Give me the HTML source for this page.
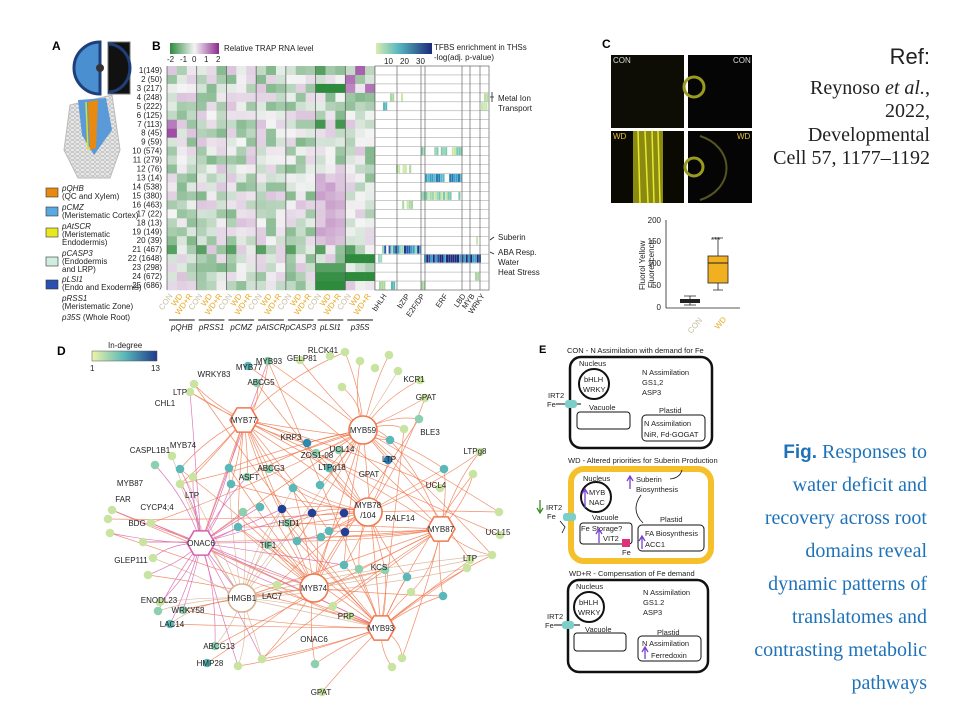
<!DOCTYPE html>
<html><head><meta charset="utf-8">
<style>
html,body{margin:0;padding:0;background:#fff;}
svg{display:block;font-family:"Liberation Sans",Arial,sans-serif;}
.s{font-size:8px;fill:#222;}
.n{font-size:8px;fill:#222;text-anchor:middle;}
.e{font-size:7.5px;fill:#222;}
.r{font-family:"Liberation Serif",serif;font-size:20px;fill:#222;text-anchor:end;}
.f{font-family:"Liberation Serif",serif;font-size:20px;fill:#1f72b8;text-anchor:end;}
</style></head><body>
<svg id="sv" width="960" height="720" viewBox="0 0 960 720" xmlns="http://www.w3.org/2000/svg">
<defs>
<linearGradient id="g1" x1="0" x2="1"><stop offset="0" stop-color="#2e8b3e"/><stop offset="0.5" stop-color="#f4f4f4"/><stop offset="1" stop-color="#8b2a8e"/></linearGradient>
<linearGradient id="g2" x1="0" x2="1"><stop offset="0" stop-color="#d8ecb0"/><stop offset="0.4" stop-color="#57b8c0"/><stop offset="1" stop-color="#1b2a7a"/></linearGradient>
<linearGradient id="g3" x1="0" x2="1"><stop offset="0" stop-color="#eef3a8"/><stop offset="0.5" stop-color="#5ab8b8"/><stop offset="1" stop-color="#1d3a8c"/></linearGradient>
<pattern id="cells" width="5" height="4" patternUnits="userSpaceOnUse"><rect width="5" height="4" fill="#e8e8e8"/><ellipse cx="2.5" cy="2" rx="2.2" ry="1.6" fill="none" stroke="#aaa" stroke-width=".5"/></pattern>
</defs>
<!-- Panel A -->
<text x="52" y="50" font-size="12" font-weight="bold">A</text>
<path d="M100,42 A26,26 0 0 0 100,94 Z" fill="#4a90d0" stroke="#1f3f7a" stroke-width="3"/>
<circle cx="100" cy="68" r="4" fill="#333"/>
<rect x="108" y="42" width="22" height="52" fill="#111" stroke="#777"/>
<path d="M108,44 A22,24 0 0 1 108,92" fill="none" stroke="#1f3f7a" stroke-width="3"/>
<path d="M70,105 L112,95 L120,150 L110,178 L78,178 L64,150 Z" fill="url(#cells)" stroke="#bbb"/>
<path d="M78,100 L106,98 L112,130 L94,155 L82,135 Z" fill="#5a9ad8"/>
<path d="M88,102 L98,100 L96,148 L90,150 Z" fill="#e88a10"/>
<path d="M86,102 L88,150" stroke="#e0e020" stroke-width="1.5"/>
<rect x="46" y="188" width="12" height="9" fill="#e88a10" stroke="#333" stroke-width=".6"/>
<rect x="46" y="207" width="12" height="9" fill="#5aa8e0" stroke="#333" stroke-width=".6"/>
<rect x="46" y="228" width="12" height="9" fill="#e8e820" stroke="#333" stroke-width=".6"/>
<rect x="46" y="257" width="12" height="9" fill="#cfeee0" stroke="#333" stroke-width=".6"/>
<rect x="46" y="280" width="12" height="9" fill="#2a4fb0" stroke="#333" stroke-width=".6"/>
<g class="s" font-size="7.5">
<text x="62" y="191" font-style="italic">pQHB</text><text x="62" y="199">(QC and Xylem)</text>
<text x="62" y="210" font-style="italic">pCMZ</text><text x="62" y="218">(Meristematic Cortex)</text>
<text x="62" y="229" font-style="italic">pAtSCR</text><text x="62" y="237">(Meristematic</text><text x="62" y="245">Endodermis)</text>
<text x="62" y="256" font-style="italic">pCASP3</text><text x="62" y="264">(Endodermis</text><text x="62" y="272">and LRP)</text>
<text x="62" y="282" font-style="italic">pLSI1</text><text x="62" y="290">(Endo and Exodermis)</text>
<text x="62" y="301" font-style="italic">pRSS1</text><text x="62" y="309">(Meristematic Zone)</text>
<text x="62" y="320"><tspan font-style="italic">p35S</tspan> (Whole Root)</text>
</g>
<!-- Panel B -->
<text x="152" y="50" font-size="12" font-weight="bold">B</text>
<rect x="170" y="43" width="49" height="11" fill="url(#g1)"/>
<text class="s" x="224" y="51">Relative TRAP RNA level</text>
<g class="s" font-size="7"><text x="167" y="62">-2</text><text x="180" y="62">-1</text><text x="192" y="62">0</text><text x="204" y="62">1</text><text x="216" y="62">2</text></g>
<rect x="376" y="43" width="56" height="11" fill="url(#g2)"/>
<text class="s" x="434" y="50">TFBS enrichment in THSs</text>
<text class="s" x="434" y="60">-log(adj. p-value)</text>
<g class="s" font-size="7"><text x="384" y="64">10</text><text x="400" y="64">20</text><text x="416" y="64">30</text></g>
<g id="heat"></g>
<g id="rowl" class="s" font-size="8" text-anchor="end"></g>
<g id="coll"></g>
<g class="s" font-size="7.5">
<text x="498" y="101">Metal Ion</text><text x="498" y="111">Transport</text>
<text x="498" y="240">Suberin</text>
<text x="498" y="255">ABA Resp.</text><text x="498" y="265">Water</text><text x="498" y="275">Heat Stress</text>
</g>
<path d="M490,97 L494,97 M492,92 L492,102 M490,240 L494,237 M490,252 L494,254" stroke="#222" stroke-width=".8"/>
<!-- Panel C -->
<text x="602" y="48" font-size="12" font-weight="bold">C</text>
<rect x="611" y="55" width="73" height="73" fill="#0d0d05"/>
<rect x="688" y="55" width="64" height="73" fill="#050505"/>
<rect x="611" y="131" width="73" height="72" fill="#0a0a02"/>
<rect x="688" y="131" width="64" height="72" fill="#050505"/>
<rect x="633" y="131" width="30" height="72" fill="#8a8a10"/>
<path d="M638,131 L640,203 M645,131 L648,203 M652,131 L654,203 M658,131 L660,203" stroke="#e8e830" stroke-width="1.5"/>
<circle cx="694" cy="87" r="10" fill="none" stroke="#9a9a20" stroke-width="3"/>
<circle cx="694" cy="167" r="9" fill="none" stroke="#9a9a20" stroke-width="3"/>
<path d="M700,136 A40,34 0 0 1 700,200" fill="none" stroke="#555520" stroke-width="2"/>
<g font-size="8" fill="#e8c040"><text x="613" y="63" fill="#ddd">CON</text><text x="733" y="63" fill="#ddd">CON</text><text x="613" y="139">WD</text><text x="737" y="139">WD</text></g>
<line x1="666" y1="220" x2="666" y2="308" stroke="#222" stroke-width=".8"/>
<line x1="666" y1="308" x2="740" y2="308" stroke="#222" stroke-width=".8"/>
<g class="s" font-size="7" text-anchor="end"><text x="661" y="223">200</text><text x="661" y="244">150</text><text x="661" y="266">100</text><text x="661" y="288">50</text><text x="661" y="310">0</text></g>
<text class="s" font-size="7" transform="translate(645,290) rotate(-90)">Fluorol Yellow</text>
<text class="s" font-size="7" transform="translate(654,288) rotate(-90)">Fluorescence</text>
<path d="M690,296 L690,305 M684,296 L696,296 M684,305 L696,305 M718,238 L718,290 M713,238 L723,238 M713,290 L723,290" stroke="#222" stroke-width=".8"/>
<rect x="680" y="299" width="20" height="4" fill="#222"/>
<rect x="708" y="256" width="20" height="27" fill="#f0b020" stroke="#222" stroke-width=".8"/>
<line x1="708" y1="263" x2="728" y2="263" stroke="#222"/>
<text class="s" x="711" y="243" font-size="7">***</text>
<text x="680" y="330" font-size="8" fill="#c8bfa0" transform="rotate(-50 690 320)">CON</text>
<text x="708" y="328" font-size="8" fill="#e8a820" transform="rotate(-50 715 318)">WD</text>
<!-- Ref -->
<text x="930" y="64" font-size="22" text-anchor="end" fill="#222">Ref:</text>
<text class="r" x="930" y="94">Reynoso <tspan font-style="italic">et al.</tspan>,</text>
<text class="r" x="930" y="117">2022,</text>
<text class="r" x="930" y="141">Developmental</text>
<text class="r" x="930" y="164">Cell 57, 1177–1192</text>
<!-- Fig caption -->
<text class="f" x="927" y="458"><tspan font-family="Liberation Sans" font-weight="bold" font-size="19">Fig.</tspan> Responses to</text>
<text class="f" x="927" y="491">water deficit and</text>
<text class="f" x="927" y="524">recovery across root</text>
<text class="f" x="927" y="557">domains reveal</text>
<text class="f" x="927" y="590">dynamic patterns of</text>
<text class="f" x="927" y="623">translatomes and</text>
<text class="f" x="927" y="656">contrasting metabolic</text>
<text class="f" x="927" y="689">pathways</text>
<!-- Panel D -->
<text x="57" y="355" font-size="12" font-weight="bold">D</text>
<rect x="92" y="351" width="65" height="10" fill="url(#g3)" stroke="#555" stroke-width=".5"/>
<text class="s" x="108" y="348" font-size="7.5">In-degree</text>
<text class="s" x="90" y="371" font-size="7.5">1</text><text class="s" x="151" y="371" font-size="7.5">13</text>
<g id="edges"></g>
<g id="nodes"></g>
<g id="hubs"></g>
<g class="n" id="lbl">
<text x="323" y="353">RLCK41</text><text x="302" y="361">GELP81</text><text x="269" y="364">MYB93</text><text x="249" y="370">MYB77</text>
<text x="214" y="377">WRKY83</text><text x="261" y="385">ABCG5</text><text x="180" y="395">LTP</text><text x="165" y="406">CHL1</text>
<text x="414" y="382">KCR1</text><text x="426" y="400">GPAT</text><text x="430" y="435">BLE3</text><text x="475" y="454">LTPg8</text>
<text x="291" y="440">KRP3</text><text x="342" y="452">UCL14</text><text x="317" y="458">ZOS1-08</text><text x="389" y="462">LTP</text>
<text x="332" y="470">LTPg18</text><text x="271" y="471">ABCG3</text><text x="369" y="477">GPAT</text><text x="249" y="480">ASFT</text>
<text x="436" y="488">UCL4</text><text x="150" y="453">CASPL1B1</text><text x="183" y="448">MYB74</text><text x="130" y="486">MYB87</text>
<text x="192" y="498">LTP</text><text x="123" y="502">FAR</text><text x="157" y="510">CYCP4;4</text><text x="289" y="526">HSD1</text>
<text x="400" y="521">RALF14</text><text x="137" y="526">BDG</text><text x="498" y="535">UCL15</text><text x="268" y="548">TIF1</text>
<text x="131" y="563">GLEP111</text><text x="470" y="561">LTP</text><text x="379" y="570">KCS</text><text x="272" y="599">LAC7</text>
<text x="159" y="603">ENODL23</text><text x="188" y="613">WRKY58</text><text x="346" y="619">PRP</text><text x="172" y="627">LAC14</text>
<text x="314" y="642">ONAC6</text><text x="219" y="649">ABCG13</text><text x="210" y="666">HMP28</text><text x="321" y="695">GPAT</text>
</g>
<g class="n" font-size="8.5">
<text x="244" y="423">MYB77</text><text x="363" y="433">MYB59</text><text x="368" y="508">MYB78</text><text x="368" y="518">/104</text>
<text x="441" y="532">MYB87</text><text x="201" y="546">ONAC6</text><text x="242" y="601">HMGB1</text><text x="314" y="591">MYB74</text><text x="381" y="631">MYB93</text>
</g>
<!-- Panel E -->
<text x="539" y="353" font-size="11" font-weight="bold">E</text>
<g class="e">
<text x="567" y="353">CON - N Assimilation with demand for Fe</text>
<rect x="570" y="357" width="142" height="91" rx="11" fill="none" stroke="#111" stroke-width="2.5"/>
<text x="579" y="366">Nucleus</text>
<circle cx="594" cy="384" r="15" fill="none" stroke="#111" stroke-width="2"/>
<text x="584" y="382">bHLH</text><text x="583" y="392">WRKY</text>
<text x="642" y="375">N Assimilation</text><text x="642" y="385">GS1,2</text><text x="642" y="395">ASP3</text>
<text x="548" y="398">IRT2</text><text x="547" y="407">Fe</text>
<line x1="556" y1="404" x2="581" y2="404" stroke="#111"/>
<rect x="565" y="400" width="12" height="8" rx="3" fill="#7ccfc8"/>
<text x="589" y="410">Vacuole</text>
<rect x="577" y="412" width="53" height="17" rx="3" fill="none" stroke="#111"/>
<text x="659" y="413">Plastid</text>
<rect x="642" y="415" width="63" height="26" rx="4" fill="none" stroke="#111"/>
<text x="644" y="426">N Assimilation</text><text x="644" y="437">NiR, Fd-GOGAT</text>

<text x="568" y="463">WD - Altered priorities for Suberin Production</text>
<rect x="571" y="469" width="140" height="92" rx="13" fill="none" stroke="#f5c02a" stroke-width="6"/>
<text x="583" y="481">Nucleus</text>
<circle cx="596" cy="497" r="15" fill="none" stroke="#111" stroke-width="2"/>
<text x="589" y="495">MYB</text><text x="589" y="505">NAC</text>
<path d="M585,508 L585,490 M582,494 L585,489 L588,494" stroke="#7a3fd0" fill="none" stroke-width="1.3"/>
<path d="M630,489 L630,477 M627,481 L630,476 L633,481" stroke="#7a3fd0" fill="none" stroke-width="1.3"/>
<text x="636" y="482">Suberin</text><text x="636" y="492">Biosynthesis</text>
<path d="M670,479 Q680,478 682,470" stroke="#111" fill="none" stroke-width=".8"/>
<path d="M643,523 Q630,510 641,495" stroke="#111" fill="none" stroke-width=".8"/>
<text x="546" y="510">IRT2</text><text x="547" y="519">Fe</text>
<path d="M540,500 L540,512 M537,508 L540,513 L543,508" stroke="#3a8a2a" fill="none" stroke-width="1.3"/>
<rect x="563" y="513" width="13" height="8" rx="3" fill="#7ccfc8"/>
<path d="M560,521 L565,527 L562,533" stroke="#111" fill="none" stroke-width=".8"/>
<text x="592" y="520">Vacuole</text>
<rect x="580" y="523" width="52" height="21" rx="3" fill="none" stroke="#111"/>
<text x="581" y="531">Fe Storage?</text><text x="603" y="541">VIT2</text>
<path d="M599,543 L599,530 M596,534 L599,529 L602,534" stroke="#7a3fd0" fill="none" stroke-width="1.3"/>
<rect x="622" y="539" width="8" height="8" fill="#e0307a"/>
<text x="622" y="555">Fe</text>
<text x="660" y="522">Plastid</text>
<rect x="638" y="525" width="66" height="26" rx="4" fill="none" stroke="#111"/>
<text x="645" y="536">FA Biosynthesis</text><text x="645" y="547">ACC1</text>
<path d="M642,549 L642,537 M639,541 L642,536 L645,541" stroke="#7a3fd0" fill="none" stroke-width="1.3"/>

<text x="569" y="576">WD+R - Compensation of Fe demand</text>
<rect x="568" y="580" width="140" height="92" rx="11" fill="none" stroke="#111" stroke-width="2.5"/>
<text x="576" y="589">Nucleus</text>
<circle cx="589" cy="607" r="15" fill="none" stroke="#111" stroke-width="2"/>
<text x="579" y="605">bHLH</text><text x="578" y="615">WRKY</text>
<text x="643" y="595">N Assimilation</text><text x="643" y="605">GS1.2</text><text x="643" y="615">ASP3</text>
<text x="547" y="619">IRT2</text><text x="545" y="628">Fe</text>
<line x1="554" y1="625" x2="580" y2="625" stroke="#111"/>
<rect x="562" y="621" width="12" height="8" rx="3" fill="#7ccfc8"/>
<text x="585" y="632">Vacuole</text>
<rect x="574" y="633" width="52" height="18" rx="3" fill="none" stroke="#111"/>
<text x="657" y="635">Plastid</text>
<rect x="638" y="636" width="63" height="25" rx="4" fill="none" stroke="#111"/>
<text x="642" y="646">N Assimilation</text><text x="651" y="658">Ferredoxin</text>
<path d="M645,659 L645,648 M642,652 L645,647 L648,652" stroke="#7a3fd0" fill="none" stroke-width="1.3"/>
</g>
</svg>
<script>
var NS="http://www.w3.org/2000/svg";
function el(p,t,a){var e=document.createElementNS(NS,t);for(var k in a)e.setAttribute(k,a[k]);p.appendChild(e);return e;}
var seed=123457;function rnd(){seed=(seed*16807)%2147483647;return seed/2147483647;}
function mix(v){
  var g=[46,139,62],w=[244,244,244],p=[150,60,155],t,a,b;
  if(v<0){t=Math.min(1,-v/2);a=w;b=g;}else{t=Math.min(1,v/2);a=w;b=p;}
  return "rgb("+[0,1,2].map(function(i){return Math.round(a[i]+(b[i]-a[i])*t)}).join(",")+")";
}
var heat=document.getElementById("heat");
var X0=167,W=9.905,Y0=66,H=8.96;
var special={};
function S(r,c,v){special[r+","+c]=v;}
[15,16,17].forEach(function(c){S(2,c,-2);});
[18,19,20].forEach(function(c){S(21,c,-2);S(23,c,-2);});
[15,16,17].forEach(function(c){S(22,c,-1.6);S(23,c,-1.9);S(24,c,-2);});
S(0,19,1.6);S(1,18,1.4);S(2,18,1.2);S(2,20,1.4);S(0,15,-1.6);S(6,0,1.3);S(7,0,1.8);S(6,15,-1.8);S(6,17,-1.8);
for(var r=0;r<25;r++)for(var c=0;c<21;c++){
  var v=special[r+","+c];
  if(v===undefined){v=(rnd()-0.68)*1.7; if(c>=15&&c<=17&&r>=12&&r<=19)v=0.4+rnd()*0.5; if(r==20&&c%3==0)v=-1.6;}
  el(heat,"rect",{x:X0+c*W,y:Y0+r*H,width:W+0.3,height:H+0.3,fill:mix(v)});
}
for(var c=0;c<=21;c+=3)el(heat,"line",{x1:X0+c*W,y1:Y0,x2:X0+c*W,y2:Y0+25*H,stroke:"#555","stroke-width":0.7});
var TX=375,TW=114;
el(heat,"rect",{x:TX,y:Y0,width:TW,height:25*H,fill:"#fff",stroke:"#666","stroke-width":0.7});
for(var r=1;r<25;r++)el(heat,"line",{x1:TX,y1:Y0+r*H,x2:TX+TW,y2:Y0+r*H,stroke:"#999","stroke-width":0.5});
function stripes(r,x1,x2,cols){for(var x=x1;x<x2;x+=2.2){var col=cols[Math.floor(rnd()*cols.length)];el(heat,"rect",{x:x,y:Y0+r*H+0.5,width:2,height:H-1,fill:col});}}
stripes(20,382,420,["#1d3a8c","#3aa0c8","#fff","#2a5aa8","#9fd8c0"]);
stripes(21,424,480,["#1b2a7a","#2a4aa0","#3aa0c8","#1b2a7a"]);
[9,14].forEach(function(r){stripes(r,421,462,["#9fd8b0","#c8e8a8","#fff","#7cc8b0"]);});
stripes(12,425,462,["#3aa0c8","#fff","#5ab8c8","#2a7ab0"]);
stripes(11,396,411,["#c8e8a8","#fff","#a8d8a0"]);stripes(15,400,411,["#c8e8a8","#fff","#a8d8a0"]);
stripes(3,390,394,["#a8d8a0"]);stripes(4,383,386,["#5ab8b8"]);stripes(3,401,403,["#c8e8a8"]);
stripes(3,484,488,["#b8e0a0"]);stripes(4,481,486,["#c8e8b0"]);stripes(19,476,478,["#c8e8b0"]);
stripes(23,475,479,["#a8d8a0"]);stripes(24,379,384,["#a8d8a0"]);stripes(24,391,394,["#5ab8b8"]);stripes(24,421,424,["#a8d8a0"]);stripes(21,378,382,["#9fd8c0"]);
[397,421,425,462,470,480].forEach(function(x){el(heat,"line",{x1:x,y1:Y0,x2:x,y2:Y0+25*H,stroke:"#666","stroke-width":0.7});});
</script>
<script>
var rl=document.getElementById("rowl");
var rows=["1(149)","2 (50)","3 (217)","4 (248)","5 (222)","6 (125)","7 (113)","8 (45)","9 (59)","10 (574)","11 (279)","12 (76)","13 (14)","14 (538)","15 (380)","16 (463)","17 (22)","18 (13)","19 (149)","20 (39)","21 (467)","22 (1648)","23 (298)","24 (672)","25 (686)"];
rows.forEach(function(t,i){var e=el(rl,"text",{x:162,y:Y0+i*H+7});e.textContent=t;});
var cl=document.getElementById("coll");
var names=["CON","WD","WD+R"],cols=["#c8bfa0","#e8a820","#e8a820"];
for(var c=0;c<21;c++){var x=X0+c*W+6,k=c%3;var e=el(cl,"text",{x:x,y:296,"font-size":8,fill:cols[k],"text-anchor":"end",transform:"rotate(-55 "+x+" 296)"});e.textContent=names[k];}
var groups=["pQHB","pRSS1","pCMZ","pAtSCR","pCASP3","pLSI1","p35S"];
groups.forEach(function(g,i){var x1=X0+i*3*W+2,x2=X0+(i+1)*3*W-2;el(cl,"line",{x1:x1,y1:320,x2:x2,y2:320,stroke:"#111","stroke-width":1});var t=el(cl,"text",{x:(x1+x2)/2,y:330,"font-size":8,"font-style":"italic","text-anchor":"middle",fill:"#222"});t.textContent=g;});
[["bHLH",387],["bZIP",410],["E2F/DP",425],["ERF",448],["LBD",466],["MYB",475],["WRKY",485]].forEach(function(a){var e=el(cl,"text",{x:a[1],y:296,"font-size":7.5,fill:"#222","text-anchor":"end",transform:"rotate(-55 "+a[1]+" 296)"});e.textContent=a[0];});
var hubs=[[244,420,"h","#f07a50"],[363,430,"c","#f07a50"],[368,512,"c","#f07a50"],[441,529,"h","#f07a50"],[201,543,"h","#d860b0"],[242,598,"c","#d8b090"],[314,588,"c","#f07a50"],[381,628,"h","#f07a50"]];
var L="#c8e4a0",T="#5ab8b8",D="#1f3f98",M="#8cd0b0";
var nodes=[[345,352,L],[389,355,L],[360,361,L],[375,368,L],[398,371,L],[342,387,L],[194,384,L],[419,419,M],[404,429,L],[390,440,T],[473,474,L],[499,512,L],[492,555,L],[467,568,L],[411,592,L],[443,596,T],[407,577,T],[402,658,L],[392,667,L],[315,664,M],[262,659,L],[238,666,L],[333,606,L],[277,585,L],[359,569,M],[344,565,T],[112,510,L],[108,519,L],[110,533,L],[143,542,L],[153,558,L],[148,575,L],[158,611,M],[151,523,L],[155,465,M],[172,456,L],[180,469,T],[193,477,L],[180,484,L],[229,468,T],[231,484,T],[243,512,M],[238,527,T],[260,507,T],[282,509,D],[312,513,D],[344,513,D],[345,532,D],[329,531,T],[321,537,T],[297,541,T],[293,488,T],[320,485,T],[307,443,"#2a8ab0"],[316,453,M],[339,450,M],[329,468,T],[388,460,"#2a7ab0"],[444,469,T],[248,366,T],[268,361,M],[257,383,M],[269,469,M],[247,477,M],[288,523,M],[268,545,M],[170,624,T],[183,610,M],[207,663,T],[215,646,M],[330,356,L],[300,360,L],[190,392,L],[420,380,L],[425,398,L],[480,452,L],[440,488,L],[500,535,L],[470,560,L],[322,692,L],[385,570,M],[350,616,L],[160,602,L]];
var eg=document.getElementById("edges"),ng=document.getElementById("nodes"),hg=document.getElementById("hubs");
nodes.forEach(function(n,i){
  hubs.forEach(function(h,j){
    var d=Math.hypot(n[0]-h[0],n[1]-h[1]);
    var p=d<90?0.7:(d<150?0.35:0.1);
    if(j==4&&n[0]<260)p+=0.3;
    if(rnd()<p){var mx=(n[0]+h[0])/2+(rnd()-0.5)*20,my=(n[1]+h[1])/2+(rnd()-0.5)*20;
      el(eg,"path",{d:"M"+h[0]+","+h[1]+" Q"+mx+","+my+" "+n[0]+","+n[1],fill:"none",stroke:h[3],"stroke-width":0.7,opacity:0.85});}
  });
});
hubs.forEach(function(h,j){hubs.forEach(function(k,i){if(i>j&&rnd()<0.5)el(eg,"line",{x1:h[0],y1:h[1],x2:k[0],y2:k[1],stroke:h[3],"stroke-width":0.8,opacity:0.8});});});
nodes.forEach(function(n){el(ng,"circle",{cx:n[0],cy:n[1],r:4.3,fill:n[2]});});
hubs.forEach(function(h){
  if(h[2]=="c")el(hg,"circle",{cx:h[0],cy:h[1],r:14,fill:"#fff",stroke:h[3],"stroke-width":1.6});
  else{var r=14,pts=[];for(var a=0;a<6;a++){var t=a*Math.PI/3;pts.push((h[0]+r*Math.cos(t))+","+(h[1]+r*Math.sin(t)));}
    el(hg,"polygon",{points:pts.join(" "),fill:"#fff",stroke:h[3],"stroke-width":1.6});}
});
</script>
</body></html>
